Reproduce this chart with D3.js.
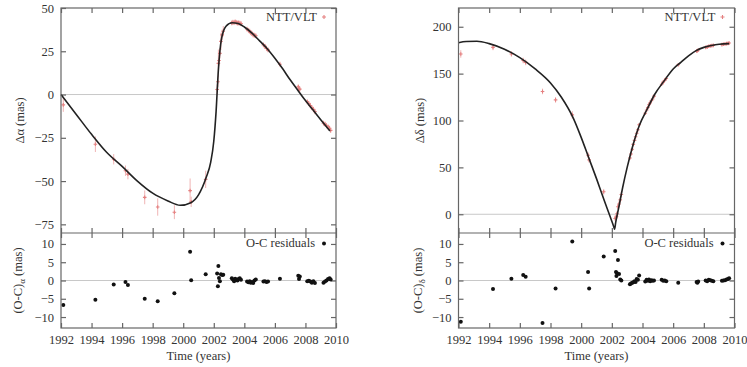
<!DOCTYPE html>
<html>
<head>
<meta charset="utf-8">
<script src="https://cdn.jsdelivr.net/npm/d3@7"></script>
<style>
  body { margin: 0; background: #fff; }
</style>
</head>
<body>
<div id="chart"></div>
<script>
// Observation epochs (shared by both coordinates)
const epochs = [1992.15, 1994.25, 1995.45, 1996.22, 1996.38, 1997.48, 1998.33, 1999.42, 2000.45, 2000.52, 2001.47,
  2002.22, 2002.27, 2002.30, 2002.34, 2002.40, 2002.47, 2002.55, 2002.62,
  2003.18, 2003.25, 2003.33, 2003.40, 2003.48, 2003.55, 2003.62, 2003.70, 2003.78,
  2004.18, 2004.27, 2004.35, 2004.42, 2004.50, 2004.58, 2004.66, 2004.75,
  2005.25, 2005.35, 2005.45, 2005.55,
  2006.33,
  2007.53, 2007.58, 2007.63,
  2008.12, 2008.22, 2008.32, 2008.42, 2008.52, 2008.62,
  2009.18, 2009.28, 2009.38, 2009.48, 2009.58, 2009.65];

// Delta alpha (mas) with errors, and residuals
const dAlpha = [-6, -28.7, -37.4, -44, -46, -59.4, -65, -68, -55.5, -62, -49,
  2.9, 7.4, 18, 19.7, 23.8, 30.7, 34.5, 36.6,
  41.4, 41.7, 41.6, 42, 41.6, 41.3, 41.4, 41.2, 41,
  37.7, 37, 36.6, 35.8, 35.3, 34.5, 34.2, 34,
  28.7, 27.8, 26.6, 25.8,
  17.5,
  4.4, 3, 3.1,
  -4.2, -5.2, -6.3, -7.6, -8.6, -9.9,
  -16.6, -17.1, -18, -18.7, -19.5, -20.7];
const dAlphaErr = [4, 4.5, 3, 3, 3, 4, 5, 4, 7, 3, 5,
  3, 3, 8, 3, 3, 5, 3, 3,
  1.5, 1.5, 1.5, 1.5, 1.5, 1.5, 1.5, 1.5, 1.5,
  1.5, 1.5, 1.5, 1.5, 1.5, 1.5, 1.5, 1.5,
  1.5, 1.5, 1.5, 1.5,
  1.5,
  1.5, 1.5, 1.5,
  1.5, 1.5, 1.5, 1.5, 1.5, 1.5,
  1.5, 1.5, 1.5, 1.5, 1.5, 1.5];
const resAlpha = [-6.7, -5.3, -1.1, -0.4, -1.2, -5, -5.7, -3.5, 7.9, 0.1, 1.7,
  1.9, -1.6, 4.0, 0.7, -0.2, 1.7, 1.5, 1.6,
  0.6, 0.3, -0.2, 0.5, 0.2, 0.0, 0.4, 0.6, 0.2,
  -0.3, -0.5, -0.2, -0.6, -0.4, -0.7, 0.0, 0.3,
  -0.3, -0.2, -0.4, -0.3,
  0.5,
  1.3, 0.4, 1.1,
  -0.2, -0.1, -0.3, -0.6, -0.2, -0.7,
  -0.6, -0.3, 0.0, 0.4, 0.6, 0.3];

// Delta delta (mas) with errors, and residuals
const dDelta = [171, 178, 171, 164, 162, 131, 122, 106, 63, 58, 24,
  -4.5, -3.7, -2.3, 0.5, 8, 11, 15.3, 21,
  60, 64.2, 69.4, 74.5, 78.8, 82.6, 86.4, 90.2, 95.4,
  107.7, 111.2, 113.9, 116.8, 118.8, 121.1, 122.9, 126,
  138.7, 140.9, 143, 144.8,
  159.4,
  174.1, 174.4, 175.2,
  178, 178.3, 179.2, 179.6, 179.9, 180.1,
  180.9, 181.3, 181.6, 182, 182.3, 182.6];
const dDeltaErr = [4, 3, 3, 3, 3, 3, 3, 4, 3, 3, 3,
  3, 3, 3, 3, 3, 3, 3, 3,
  1.5, 1.5, 1.5, 1.5, 1.5, 1.5, 1.5, 1.5, 1.5,
  1.5, 1.5, 1.5, 1.5, 1.5, 1.5, 1.5, 1.5,
  1.5, 1.5, 1.5, 1.5,
  1.5,
  1.5, 1.5, 1.5,
  1.5, 1.5, 1.5, 1.5, 1.5, 1.5,
  1.5, 1.5, 1.5, 1.5, 1.5, 1.5];
const resDelta = [-11.3, -2.3, 0.5, 1.5, 1.0, -11.6, -2.2, 10.7, 2.3, -2.2, 6.6,
  8.1, 2.3, 1.2, 2.0, 5.6, 1.8, 0.3, 0.0,
  -1.0, -0.8, -0.6, -0.5, -0.2, -0.4, 0.4, 0.2, 1.4,
  -0.3, 0.2, -0.1, 0.3, -0.2, 0.1, -0.1, 0.0,
  0.2, -0.1, 0.0, -0.2,
  -0.6,
  -0.4, -0.6, -0.3,
  0.0, -0.2, 0.2, 0.1, -0.1, -0.2,
  -0.1, 0.0, 0.1, 0.3, 0.4, 0.6];

// Orbit model curves
const alphaCurveT = [1992.0, 1993, 1994, 1995, 1996, 1997, 1998, 1999, 1999.8, 2000.5, 2001.0, 2001.5, 2001.8, 2002.0,
  2002.15, 2002.3, 2002.5, 2002.8, 2003.2, 2003.6, 2004.0, 2004.5, 2005, 2005.5, 2006, 2006.5, 2007, 2007.5,
  2008, 2008.5, 2009, 2009.6];
const alphaCurve = [0, -11.5, -23, -33.5, -41.5, -50, -57, -61.5, -64, -62.5, -58, -48, -39, -27,
  -10, 14, 32, 39.5, 41.5, 41, 39, 35.5, 31, 26.5, 21, 15, 8.5, 2.5,
  -3.5, -9, -14.5, -21];
const deltaCurveT = [1992.0, 1992.5, 1993.2, 1994, 1995, 1996, 1997, 1998, 1998.7, 1999.5, 2000, 2000.5, 2001, 2001.5,
  2001.9, 2002.12, 2002.18, 2002.25, 2002.45, 2002.7, 2003, 2003.4, 2003.8, 2004.3, 2004.8, 2005.4, 2006, 2006.5,
  2007, 2007.5, 2008, 2008.5, 2009, 2009.65];
const deltaCurve = [183, 184.3, 184.5, 182, 176, 167, 155, 140, 125, 102, 82, 60, 38, 15,
  -3, -13, -16, -9, 7, 28, 50, 75, 95, 112, 128, 142, 155, 162,
  169, 174.5, 178, 180, 181.3, 182];

const yearTicks = [1992, 1994, 1996, 1998, 2000, 2002, 2004, 2006, 2008, 2010];
const alphaTicks = [50, 25, 0, -25, -50, -75];
const deltaTicks = [200, 150, 100, 50, 0];
const resTicks = [10, 5, 0, -5, -10];

const W = 747, H = 367;
const svg = d3.select("#chart").append("svg").attr("width", W).attr("height", H);

const topY0 = 8, midY = 233, botY = 328;

function drawPanel(cfg) {
  const x = d3.scaleLinear().domain([1992, 2010]).range([cfg.left, cfg.right]);
  const y = d3.scaleLinear().domain(cfg.domain).range([midY, topY0]);
  const yr = d3.scaleLinear().domain([-13, 13]).range([botY, midY]);
  const g = svg.append("g");

  // zero lines
  g.append("line").attr("x1", cfg.left).attr("x2", cfg.right)
    .attr("y1", y(0)).attr("y2", y(0)).attr("stroke", "#c8c8c8").attr("stroke-width", 1);
  g.append("line").attr("x1", cfg.left).attr("x2", cfg.right)
    .attr("y1", yr(0)).attr("y2", yr(0)).attr("stroke", "#c8c8c8").attr("stroke-width", 1);

  // axes (inward ticks, gnuplot style)
  const tickStyle = sel => {
    sel.select(".domain").remove();
    sel.selectAll(".tick line").attr("stroke", "#666").attr("stroke-width", 1.2);
    sel.selectAll(".tick text").attr("font-size", 12.5).attr("fill", "#333");
  };
  g.append("g").attr("transform", `translate(${cfg.left},0)`)
    .call(d3.axisLeft(y).tickValues(cfg.ticks).tickSize(-5).tickPadding(7)).call(tickStyle);
  g.append("g").attr("transform", `translate(${cfg.right},0)`)
    .call(d3.axisRight(y).tickValues(cfg.ticks).tickSize(-5).tickFormat("")).call(tickStyle);
  g.append("g").attr("transform", `translate(0,${topY0})`)
    .call(d3.axisTop(x).tickValues(yearTicks).tickSize(-5).tickFormat("")).call(tickStyle);
  g.append("g").attr("transform", `translate(0,${midY})`)
    .call(d3.axisBottom(x).tickValues(yearTicks).tickSize(-5).tickFormat("")).call(tickStyle);
  g.append("g").attr("transform", `translate(0,${midY})`)
    .call(d3.axisTop(x).tickValues(yearTicks).tickSize(-5).tickFormat("")).call(tickStyle);
  g.append("g").attr("transform", `translate(0,${botY})`)
    .call(d3.axisBottom(x).tickValues(yearTicks).tickSize(-5).tickPadding(7).tickFormat(d3.format("d"))).call(tickStyle);
  g.append("g").attr("transform", `translate(${cfg.left},0)`)
    .call(d3.axisLeft(yr).tickValues(resTicks).tickSize(-5).tickPadding(7)).call(tickStyle);
  g.append("g").attr("transform", `translate(${cfg.right},0)`)
    .call(d3.axisRight(yr).tickValues(resTicks).tickSize(-5).tickFormat("")).call(tickStyle);

  // error bars and points
  const pts = epochs.map((t, i) => ({ t, v: cfg.vals[i], e: cfg.errs[i], r: cfg.res[i] }));
  g.append("g").selectAll("line").data(pts).join("line")
    .attr("x1", d => x(d.t)).attr("x2", d => x(d.t))
    .attr("y1", d => y(d.v - d.e)).attr("y2", d => y(d.v + d.e))
    .attr("stroke", "#f0b4b4").attr("stroke-width", 1);
  g.append("g").selectAll("path").data(pts).join("path")
    .attr("d", d => `M${x(d.t) - 1.8},${y(d.v)}h3.6M${x(d.t)},${y(d.v) - 1.8}v3.6`)
    .attr("stroke", "#e58080").attr("stroke-width", 1.1).attr("fill", "none");

  // model curve
  const line = d3.line().x(d => x(d[0])).y(d => y(d[1])).curve(d3.curveMonotoneX);
  g.append("path").datum(cfg.curveT.map((t, i) => [t, cfg.curve[i]]))
    .attr("d", line).attr("fill", "none").attr("stroke", "#222").attr("stroke-width", 1.6);

  // residuals
  g.append("g").selectAll("circle").data(pts).join("circle")
    .attr("cx", d => x(d.t)).attr("cy", d => yr(d.r)).attr("r", 2).attr("fill", "#111");

  // frames
  g.append("rect").attr("x", cfg.left).attr("y", topY0).attr("width", cfg.right - cfg.left)
    .attr("height", botY - topY0).attr("fill", "none").attr("stroke", "#666").attr("stroke-width", 1.2);
  g.append("line").attr("x1", cfg.left).attr("x2", cfg.right).attr("y1", midY).attr("y2", midY)
    .attr("stroke", "#666").attr("stroke-width", 1.2);

  // legends
  g.append("text").attr("x", cfg.right - 19).attr("y", 21).attr("text-anchor", "end")
    .attr("font-size", 12.5).text("NTT/VLT");
  g.append("path").attr("d", `M${cfg.right - 14},17h4M${cfg.right - 12},15v4`)
    .attr("stroke", "#e58080").attr("stroke-width", 1.1);
  g.append("text").attr("x", cfg.right - 21).attr("y", 247).attr("text-anchor", "end")
    .attr("font-size", 12.5).text("O-C residuals");
  g.append("circle").attr("cx", cfg.right - 12).attr("cy", 243.5).attr("r", 2).attr("fill", "#111");

  // axis titles
  g.append("text").attr("transform", `translate(${cfg.labelX},${(topY0 + midY) / 2}) rotate(-90)`)
    .attr("text-anchor", "middle").attr("font-size", 12.5).text(cfg.title);
  const rt = g.append("text").attr("transform", `translate(${cfg.labelX - 2},${(midY + botY) / 2}) rotate(-90)`)
    .attr("text-anchor", "middle").attr("font-size", 12.5);
  rt.append("tspan").text("(O-C)");
  rt.append("tspan").attr("font-size", 9).attr("dy", 3).text(cfg.sub);
  rt.append("tspan").attr("dy", -3).text(" (mas)");
  g.append("text").attr("x", (cfg.left + cfg.right) / 2).attr("y", 360).attr("text-anchor", "middle")
    .attr("font-size", 12.5).text("Time (years)");
}

drawPanel({ left: 61, right: 336, domain: [-80, 50], ticks: alphaTicks,
  vals: dAlpha, errs: dAlphaErr, res: resAlpha, curveT: alphaCurveT, curve: alphaCurve,
  title: "Δα (mas)", sub: "α", labelX: 24 });
drawPanel({ left: 458.5, right: 734.5, domain: [-20, 220], ticks: deltaTicks,
  vals: dDelta, errs: dDeltaErr, res: resDelta, curveT: deltaCurveT, curve: deltaCurve,
  title: "Δδ (mas)", sub: "δ", labelX: 424 });

// serif text throughout, like the original figure
svg.selectAll("g").attr("font-family", null);
svg.selectAll("text").style("font-family", "'Liberation Serif', serif").style("fill", "#333");
</script>
</body>
</html>
